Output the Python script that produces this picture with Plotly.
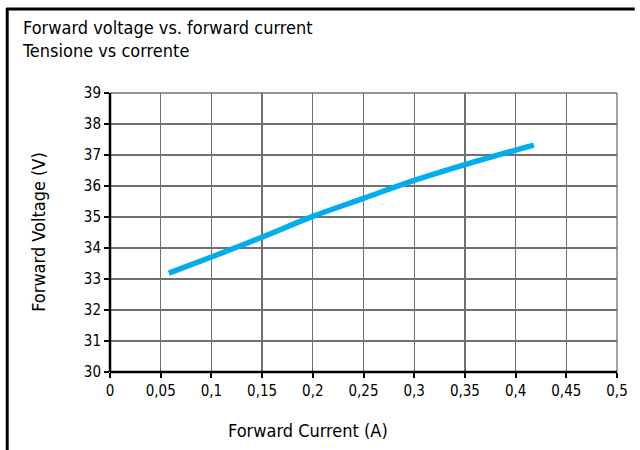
import plotly.graph_objects as go

current = [0.058, 0.1, 0.15, 0.2, 0.25, 0.3, 0.35, 0.4, 0.418]
voltage = [33.19, 33.71, 34.35, 35.02, 35.6, 36.18, 36.69, 37.16, 37.32]

x_ticks = [0, 0.05, 0.1, 0.15, 0.2, 0.25, 0.3, 0.35, 0.4, 0.45, 0.5]
x_labels = ["0", "0,05", "0,1", "0,15", "0,2", "0,25", "0,3", "0,35", "0,4", "0,45", "0,5"]
y_ticks = list(range(30, 40))

title_text = "Forward voltage vs. forward current<br>Tensione vs corrente"
x_title = "Forward Current (A)"
y_title = "Forward Voltage (V)"

FONT = "Liberation Sans Narrow, DejaVu Sans Condensed, Arial Narrow, sans-serif"

W, H = 640, 450
L, R, T, B = 110, 17, 93, 78
pw, ph = W - L - R, H - T - B

def px(xp):
    return (xp - L) / pw

def py(yp):
    return (H - B - yp) / ph

fig = go.Figure()
fig.add_trace(go.Scatter(
    x=current, y=voltage, mode="lines",
    line=dict(color="#00AEEF", width=5.5, shape="spline"),
    showlegend=False, hoverinfo="skip",
))

fig.update_layout(
    width=W, height=H, autosize=False,
    margin=dict(l=L, r=R, t=T, b=B),
    paper_bgcolor="white", plot_bgcolor="white",
    font=dict(family=FONT, color="black", size=15),
    xaxis=dict(
        range=[0, 0.5], tickvals=x_ticks, ticktext=x_labels,
        showgrid=True, gridcolor="#707070", gridwidth=1.3,
        zeroline=False, showline=False,
        ticks="outside", ticklen=5, tickcolor="black", tickwidth=2,
        tickfont=dict(size=15, family=FONT),
        fixedrange=True,
    ),
    yaxis=dict(
        range=[30, 39], tickvals=y_ticks,
        showgrid=True, gridcolor="#707070", gridwidth=1.3,
        zeroline=False, showline=False,
        ticks="outside", ticklen=5, tickcolor="black", tickwidth=2,
        tickfont=dict(size=15, family=FONT),
        fixedrange=True,
    ),
    annotations=[
        dict(text=title_text, xref="paper", yref="paper",
             x=px(19), y=py(15), xanchor="left", yanchor="top",
             showarrow=False, align="left",
             font=dict(size=18, family=FONT, color="black")),
        dict(text=x_title, xref="paper", yref="paper",
             x=px(310), y=py(430), xanchor="center", yanchor="middle",
             showarrow=False, font=dict(size=18, family=FONT, color="black")),
        dict(text=y_title, xref="paper", yref="paper", textangle=-90,
             x=px(37), y=py(232), xanchor="center", yanchor="middle",
             showarrow=False, font=dict(size=18, family=FONT, color="black")),
    ],
    shapes=[
        dict(type="line", xref="paper", yref="paper", x0=0, x1=1, y0=1, y1=1,
             line=dict(color="#707070", width=1.3)),
        dict(type="line", xref="paper", yref="paper", x0=1, x1=1, y0=0, y1=1,
             line=dict(color="#707070", width=1.3)),
        dict(type="line", xref="paper", yref="paper", x0=0, x1=0, y0=0, y1=1,
             line=dict(color="black", width=2.5)),
        dict(type="line", xref="paper", yref="paper", x0=0, x1=1, y0=0, y1=0,
             line=dict(color="black", width=2.5)),
        dict(type="line", xref="paper", yref="paper", x0=px(5), x1=px(641), y0=py(9), y1=py(9),
             line=dict(color="black", width=3)),
        dict(type="line", xref="paper", yref="paper", x0=px(6), x1=px(6), y0=py(8), y1=py(451),
             line=dict(color="black", width=3)),
    ],
)

fig.write_html(
    "out.html",
    config={"displayModeBar": False, "responsive": False, "staticPlot": True},
    post_script="document.body.style.margin='0';document.body.style.overflow='hidden';",
)
